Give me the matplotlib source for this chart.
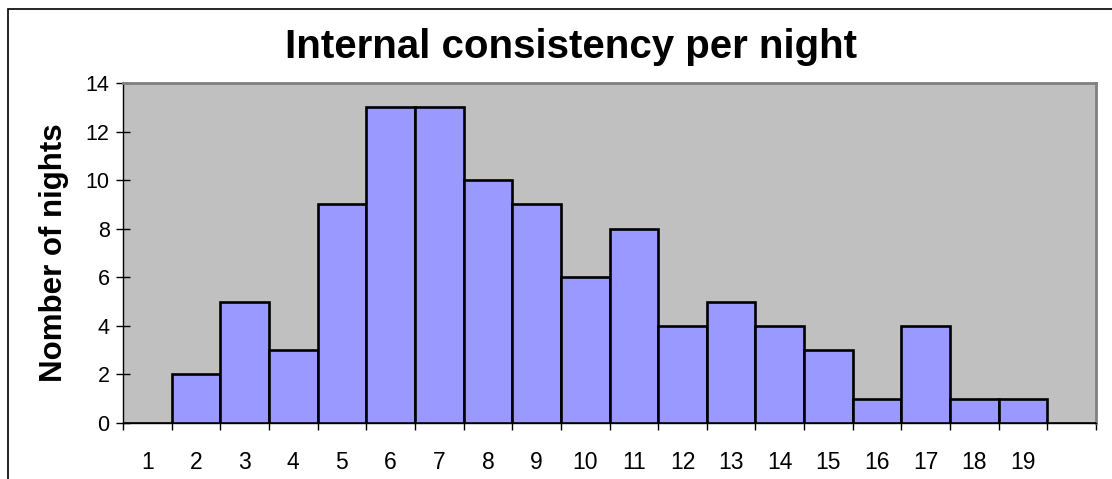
import matplotlib
matplotlib.use("Agg")
import matplotlib.pyplot as plt
from matplotlib.patches import Rectangle

plt.rcParams['font.family'] = ['Liberation Sans', 'DejaVu Sans']

# --- Data: nights per consistency class ---
categories = list(range(1, 21))
tick_labels = [str(c) for c in range(1, 20)] + [""]
nights = [0, 2, 5, 3, 9, 13, 13, 10, 9, 6, 8, 4, 5, 4, 3, 1, 4, 1, 1, 0]

fig = plt.figure(figsize=(11.12, 4.79), dpi=100)
ax = fig.add_axes([123 / 1112, 56 / 479, 973 / 1112, 340 / 479])

# --- Bars ---
ax.bar(categories, nights, width=1.0, color="#9999FF",
       edgecolor="black", linewidth=1.9, zorder=3)

ax.set_facecolor("#C0C0C0")
ax.set_xlim(0.5, 20.5)
ax.set_ylim(0, 14)
ax.set_yticks(range(0, 15, 2))

# labels at centres, tick marks at the class boundaries
ax.set_xticks(categories)
ax.set_xticklabels(tick_labels)
ax.set_xticks([c + 0.5 for c in range(0, 21)], minor=True)
ax.tick_params(axis="x", which="major", length=0, pad=20, labelsize=16.5)
ax.tick_params(axis="x", which="minor", length=5, width=1, direction="out")
ax.tick_params(axis="y", length=9.4, width=1, direction="inout", pad=5, labelsize=15.5)

for side in ["top", "right"]:
    ax.spines[side].set_color("#808080")
    ax.spines[side].set_linewidth(2)
for side in ["left", "bottom"]:
    ax.spines[side].set_color("black")
    ax.spines[side].set_linewidth(1)

ax.set_ylabel("Nomber of nights", fontsize=22.5, fontweight="bold", va="center")
ax.yaxis.set_label_coords((54 - 123) / 973, 0.5)

fig.text(571 / 1112, 1 - 58 / 479, "Internal consistency per night",
         fontsize=29, fontweight="bold", ha="center", va="baseline")

# outer chart border (cut off at right and bottom)
fig.patches.append(Rectangle((8 / 1112, -0.1), 1.2, 1 - 9 / 479 + 0.1,
                             transform=fig.transFigure, fill=False,
                             edgecolor="black", linewidth=1.2))

fig.savefig("out.png", dpi=100)
